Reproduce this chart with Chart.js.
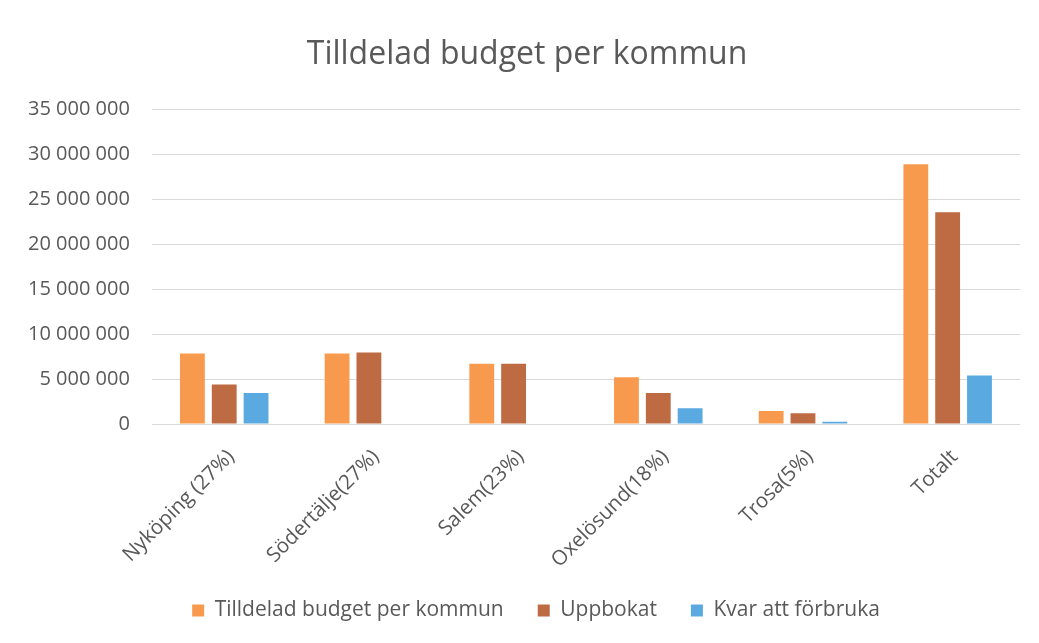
<!DOCTYPE html>
<html>
<head>
<meta charset="utf-8">
<script src="https://cdn.jsdelivr.net/npm/chart.js@4"></script>
<style>
  html, body { margin: 0; padding: 0; background: #fff; }
  #wrap { width: 1039px; height: 643px; position: relative; }
</style>
</head>
<body>
<div id="wrap"><canvas id="budgetChart"></canvas></div>
<script>
// Data
const kommuner = ['Nyköping (27%)', 'Södertälje(27%)', 'Salem(23%)', 'Oxelösund(18%)', 'Trosa(5%)', 'Totalt'];
const tilldelad = [7850000, 7850000, 6690000, 5200000, 1440000, 28900000];
const uppbokat = [4390000, 7950000, 6690000, 3450000, 1200000, 23550000];
const kvar = [3460000, null, null, 1750000, 250000, 5400000];

const fontFam = '"Open Sans", "Noto Sans", sans-serif';
const grey = '#595959';
const padBottom = 12;

// thousands separated with spaces, e.g. 35 000 000
function formatNum(v) {
    return String(v).replace(/\B(?=(\d{3})+(?!\d))/g, ' ');
}

// nudge title and legend a little right, like in the original
const nudgeBoxes = {
    id: 'nudgeBoxes',
    afterLayout(chart) {
        if (chart.titleBlock) { chart.titleBlock.left += 14; chart.titleBlock.right += 14; }
        if (chart.legend) { chart.legend.left += 23; chart.legend.right += 23; }
    }
};

const ctx = document.getElementById('budgetChart').getContext('2d');
new Chart(ctx, {
    type: 'bar',
    data: {
        labels: kommuner,
        datasets: [
            { label: 'Tilldelad budget per kommun', data: tilldelad, backgroundColor: '#F89A4E' },
            { label: 'Uppbokat', data: uppbokat, backgroundColor: '#BE6A42' },
            { label: 'Kvar att förbruka', data: kvar, backgroundColor: '#5AA9E0' }
        ]
    },
    options: {
        responsive: true,
        maintainAspectRatio: false,
        animation: false,
        datasets: { bar: { barPercentage: 0.78, categoryPercentage: 0.66 } },
        layout: { padding: { left: 6, right: 19, top: 36, bottom: padBottom } },
        plugins: {
            title: {
                display: true,
                text: 'Tilldelad budget per kommun',
                color: grey,
                font: { family: fontFam, size: 32, weight: 'normal' },
                padding: { top: 0, bottom: 35 }
            },
            legend: {
                position: 'bottom',
                labels: {
                    color: grey,
                    font: { family: fontFam, size: 21 },
                    boxWidth: 12,
                    boxHeight: 12,
                    padding: 34
                }
            },
            tooltip: { enabled: false }
        },
        scales: {
            x: {
                grid: { display: false, drawTicks: false },
                border: { display: false },
                // keep the plot bottom where the original has it
                afterFit: s => {
                    const lg = s.chart.legend ? s.chart.legend.height : 0;
                    s.height = s.chart.height - padBottom - lg - 424;
                },
                ticks: {
                    color: grey,
                    font: { family: fontFam, size: 20.5 },
                    minRotation: 45,
                    maxRotation: 45,
                    padding: 21,
                    labelOffset: 7,
                    autoSkip: false
                }
            },
            y: {
                min: 0,
                max: 35000000,
                grid: { color: '#d9d9d9', drawTicks: false },
                border: { display: false },
                ticks: {
                    stepSize: 5000000,
                    color: grey,
                    font: { family: fontFam, size: 20 },
                    padding: 22,
                    callback: v => formatNum(v)
                }
            }
        }
    },
    plugins: [nudgeBoxes]
});
</script>
</body>
</html>
